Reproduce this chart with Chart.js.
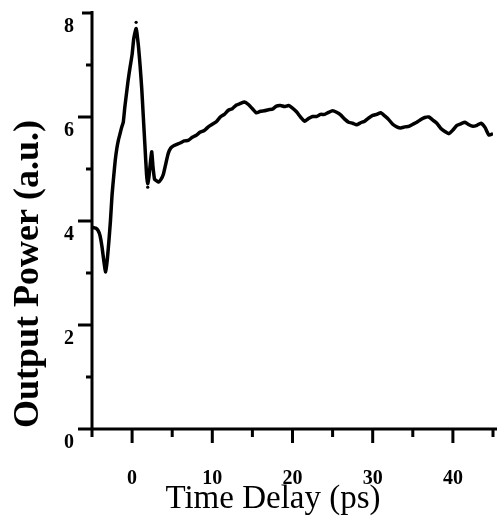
<!DOCTYPE html>
<html>
<head>
    <title>Output Power vs Time Delay</title>
    <style>
        body { margin: 0; padding: 0; background: #fff; }
        #chartContainer { width: 497px; height: 516px; }
    </style>
    <script src="https://cdn.jsdelivr.net/npm/chart.js"></script>
</head>
<body>

    <div id="chartContainer">
        <canvas id="myLineChart"></canvas>
    </div>

    <script>
        // time delay (ps) and measured output power (a.u.)
        const delay = [
            -5, -4.75, -4.5, -4.25, -4.0, -3.75, -3.5, -3.3, -3.1, -2.9, -2.7, -2.5, -2.3, -2.1, -1.9,
            -1.7, -1.5, -1.3, -1.1, -0.9, -0.7, -0.5, -0.25, 0, 0.2, 0.4, 0.5, 0.6, 0.8, 1.0,
            1.2, 1.4, 1.6, 1.8, 1.95, 2.1, 2.3, 2.45, 2.6, 2.8, 3.0, 3.3, 3.6, 3.9, 4.2,
            4.5, 4.8, 5.1, 5.5, 6.0, 6.5, 7.0, 7.5, 8.0, 8.5, 9.0, 9.5, 10.0, 10.5, 11.0,
            11.5, 12.0, 12.5, 13.0, 13.5, 14.0, 14.5, 15.0, 15.5, 16.0, 16.5, 17.0, 17.5, 18.0, 18.5,
            19.0, 19.5, 20.0, 20.5, 21.0, 21.5, 22.0, 22.5, 23.0, 23.5, 24.0, 24.5, 25.0, 25.5, 26.0,
            26.5, 27.0, 27.5, 28.0, 28.5, 29.0, 29.5, 30.0, 30.5, 31.0, 31.5, 32.0, 32.5, 33.0, 33.5,
            34.0, 34.5, 35.0, 35.5, 36.0, 36.5, 37.0, 37.5, 38.0, 38.5, 39.0, 39.5, 40.0, 40.5, 41.0,
            41.5, 42.0, 42.5, 43.0, 43.5, 44.0, 44.5, 45.0
        ];
        const power = [
            3.88, 3.87, 3.86, 3.82, 3.72, 3.5, 3.2, 3.02, 3.25, 3.6, 4.0, 4.5, 4.85, 5.17, 5.4,
            5.56, 5.68, 5.8, 5.9, 6.2, 6.45, 6.7, 6.96, 7.2, 7.5, 7.65, 7.7, 7.62, 7.35, 6.98,
            6.55, 6.0, 5.45, 4.9, 4.72, 4.85, 5.15, 5.33, 5.05, 4.8, 4.78, 4.75, 4.8, 4.9, 5.1,
            5.3, 5.4, 5.44, 5.47, 5.5, 5.54, 5.55, 5.61, 5.65, 5.71, 5.74, 5.81, 5.86, 5.91, 6.0,
            6.05, 6.13, 6.16, 6.23, 6.26, 6.29, 6.24, 6.16, 6.08, 6.11, 6.12, 6.14, 6.15, 6.21, 6.22,
            6.2, 6.22, 6.17, 6.1, 6.0, 5.92, 5.97, 6.01, 6.01, 6.05, 6.05, 6.09, 6.12, 6.09, 6.04,
            5.96, 5.9, 5.88, 5.85, 5.89, 5.92, 5.98, 6.03, 6.05, 6.08, 6.02, 5.95, 5.86, 5.81, 5.79,
            5.81, 5.82, 5.86, 5.9, 5.95, 5.99, 6.0, 5.94, 5.88, 5.78, 5.72, 5.68, 5.75, 5.84, 5.87,
            5.9, 5.85, 5.82, 5.84, 5.88, 5.8, 5.65, 5.68
        ];
        // stray sample points
        const strayDelay = [0.5, 1.95];
        const strayPower = [7.82, 4.65];

        const xMajorTicks = [0, 10, 20, 30, 40];
        const xMinorTicks = [-5, 5, 15, 25, 35, 45];
        const yMajorTicks = [0, 2, 4, 6, 8];
        const yMinorTicks = [1, 3, 5, 7];

        const serif = '"Liberation Serif", "Times New Roman", serif';

        const axesPlugin = {
            id: 'axesPlugin',
            afterDraw(chart) {
                const ctx = chart.ctx;
                const xs = chart.scales.x;
                const ys = chart.scales.y;
                const left = xs.getPixelForValue(-5);
                const bottom = ys.getPixelForValue(0);
                ctx.save();
                ctx.strokeStyle = '#000';
                ctx.lineWidth = 3;
                ctx.lineCap = 'butt';
                ctx.beginPath();
                // y axis line
                ctx.moveTo(left, ys.getPixelForValue(8) - 2);
                ctx.lineTo(left, bottom + 2);
                // x axis line (runs into the y=0 tick)
                ctx.moveTo(left - 14, bottom);
                ctx.lineTo(chart.width, bottom);
                yMajorTicks.forEach(v => {
                    const p = ys.getPixelForValue(v);
                    ctx.moveTo(left - (v === 8 ? 10 : 14), p);
                    ctx.lineTo(left, p);
                });
                yMinorTicks.forEach(v => {
                    const p = ys.getPixelForValue(v);
                    ctx.moveTo(left - 6, p);
                    ctx.lineTo(left, p);
                });
                xMajorTicks.forEach(v => {
                    const p = xs.getPixelForValue(v);
                    ctx.moveTo(p, bottom);
                    ctx.lineTo(p, bottom + 14);
                });
                xMinorTicks.forEach(v => {
                    const p = xs.getPixelForValue(v);
                    ctx.moveTo(p, bottom);
                    ctx.lineTo(p, bottom + 8);
                });
                ctx.stroke();

                // axis titles
                ctx.fillStyle = '#000';
                ctx.textAlign = 'center';
                ctx.textBaseline = 'alphabetic';
                ctx.font = '33px ' + serif;
                ctx.fillText('Time Delay (ps)', 273, 508);
                ctx.translate(38, 274);
                ctx.rotate(-Math.PI / 2);
                ctx.font = 'bold 36px ' + serif;
                ctx.fillText('Output Power (a.u.)', 0, 0);
                ctx.restore();
            }
        };

        const ctx = document.getElementById('myLineChart').getContext('2d');
        new Chart(ctx, {
            type: 'line',
            data: {
                datasets: [{
                    label: 'Output Power',
                    data: delay.map((t, i) => ({ x: t, y: power[i] })),
                    borderColor: '#000',
                    borderWidth: 3.5,
                    pointRadius: 0,
                    tension: 0.15,
                    fill: false
                }, {
                    label: 'Stray points',
                    data: strayDelay.map((t, i) => ({ x: t, y: strayPower[i] })),
                    showLine: false,
                    pointRadius: 1.6,
                    pointBackgroundColor: '#000',
                    pointBorderWidth: 0
                }]
            },
            options: {
                responsive: true,
                maintainAspectRatio: false,
                animation: false,
                layout: { padding: { top: 13, right: 0, left: 0, bottom: 0 } },
                plugins: {
                    legend: { display: false },
                    tooltip: { enabled: false }
                },
                scales: {
                    x: {
                        type: 'linear',
                        min: -5,
                        max: 45,
                        afterBuildTicks: scale => { scale.ticks = xMajorTicks.map(v => ({ value: v })); },
                        afterFit: scale => {
                            scale.height = 87;
                            scale.paddingLeft = 0;
                            scale.paddingRight = 0;
                        },
                        grid: { display: false, drawTicks: false },
                        border: { display: false },
                        ticks: {
                            padding: 38,
                            maxRotation: 0,
                            color: '#000',
                            font: { family: serif, size: 20, weight: 'bold' }
                        }
                    },
                    y: {
                        min: 0,
                        max: 8,
                        afterBuildTicks: scale => { scale.ticks = yMajorTicks.map(v => ({ value: v })); },
                        afterFit: scale => {
                            scale.width = 92;
                            scale.paddingTop = 0;
                            scale.paddingBottom = 0;
                        },
                        grid: { display: false, drawTicks: false },
                        border: { display: false },
                        ticks: {
                            padding: 18,
                            labelOffset: 14,
                            color: '#000',
                            font: { family: serif, size: 20, weight: 'bold' }
                        }
                    }
                }
            },
            plugins: [axesPlugin]
        });
    </script>

</body>
</html>
